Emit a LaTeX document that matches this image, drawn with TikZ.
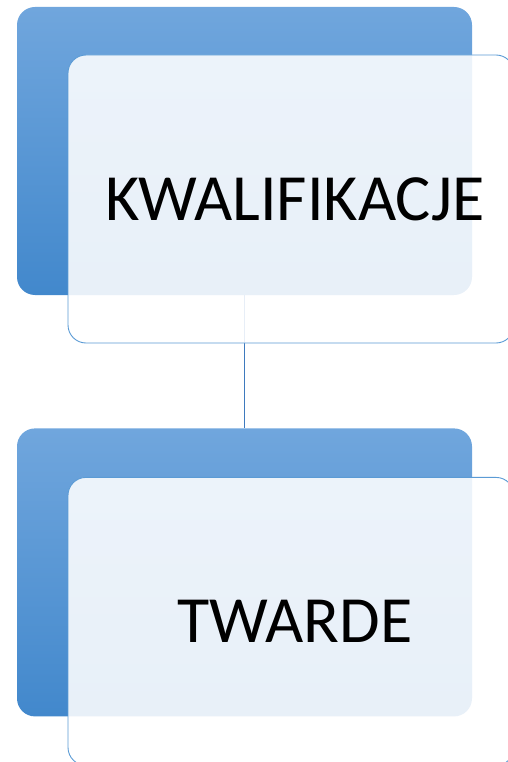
\documentclass[tikz,border=0pt]{standalone}
\usepackage{fontspec}
\setmainfont{Carlito}
\usetikzlibrary{positioning}

\definecolor{blueTop}{RGB}{112,166,221}
\definecolor{blueBottom}{RGB}{66,136,204}
\definecolor{frameBlue}{RGB}{91,155,213}
\definecolor{linkBlue}{RGB}{62,122,190}

\begin{document}
\begin{tikzpicture}[x=1pt,y=1pt]
	\tikzstyle{outer}=[rectangle, rounded corners=18pt, minimum width=455pt, minimum height=288pt, top color=blueTop, bottom color=blueBottom, draw=none]
	\tikzstyle{inner}=[rectangle, rounded corners=18pt, minimum width=446pt, minimum height=288pt, fill=white, fill opacity=0.88, text opacity=1, draw=frameBlue, line width=0.9pt]
	\tikzstyle{caption}=[font=\fontsize{66}{72}\selectfont, xshift=4pt]
	\tikzstyle{connect}=[linkBlue, line width=1.2pt]
	\useasboundingbox (0,0) rectangle (508,-762);
	\node[outer] (outerA) at (244.5,-151) {};
	\node[outer] (outerB) [below=133pt of outerA] {};
	\path (outerA.south) edge [connect] (outerB.north);
	\node[inner] (innerA) [xshift=46.5pt, yshift=-48pt] at (outerA) {};
	\node[inner] (innerB) [xshift=46.5pt, yshift=-49pt] at (outerB) {};
	\node[caption] (textA) at (innerA) {KWALIFIKACJE};
	\node[caption] (textB) at (innerB) {TWARDE};
\end{tikzpicture}
\end{document}
